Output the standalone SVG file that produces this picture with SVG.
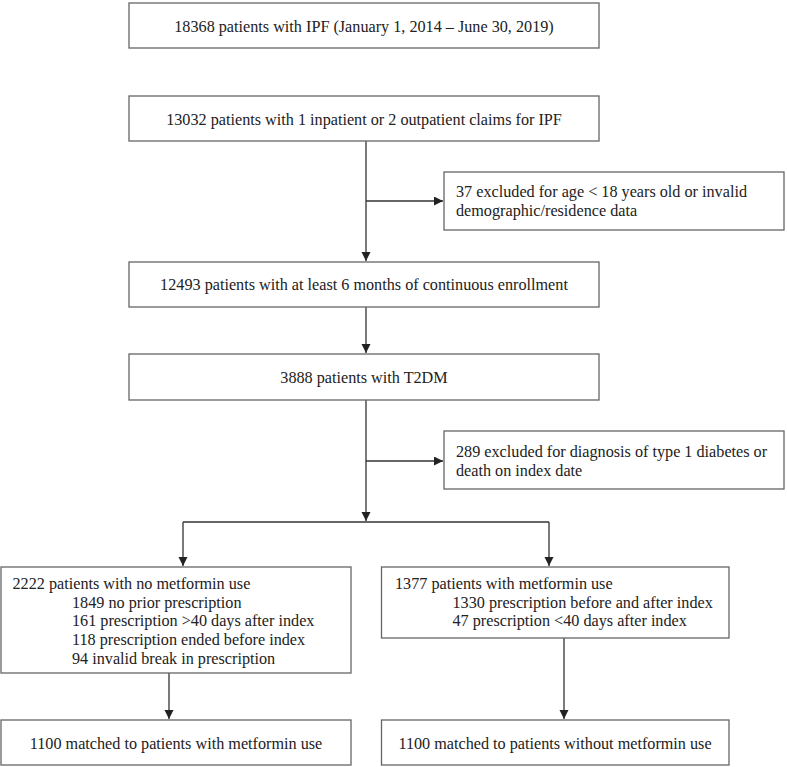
<svg xmlns="http://www.w3.org/2000/svg" width="787" height="767" viewBox="0 0 787 767">
<defs>
<marker id="ah" markerWidth="10" markerHeight="10" refX="9" refY="4.5" orient="auto" markerUnits="userSpaceOnUse">
<path d="M0,0 L9,4.5 L0,9 Z" fill="#222"/>
</marker>
<style>
.box{fill:#fff;stroke:#666;stroke-width:1.3}
.t{font-family:"Liberation Serif","Times New Roman","DejaVu Serif",serif;font-size:16.2px;fill:#222}
.c{text-anchor:middle}
.ln{fill:none;stroke:#333;stroke-width:1.3}
</style>
</defs>
<rect width="787" height="767" fill="#fff"/>
<g id="connectors">
<path class="ln" d="M366,141 V261" marker-end="url(#ah)"/>
<path class="ln" d="M366,201 H443" marker-end="url(#ah)"/>
<path class="ln" d="M366,307 V353" marker-end="url(#ah)"/>
<path class="ln" d="M366,400 V521" marker-end="url(#ah)"/>
<path class="ln" d="M366,461 H443" marker-end="url(#ah)"/>
<path class="ln" d="M183,522 H549"/>
<path class="ln" d="M183,522 V566" marker-end="url(#ah)"/>
<path class="ln" d="M549,522 V566" marker-end="url(#ah)"/>
<path class="ln" d="M169,673 V719" marker-end="url(#ah)"/>
<path class="ln" d="M564,638 V719" marker-end="url(#ah)"/>
</g>
<g id="n1">
<rect class="box" x="129" y="3" width="470" height="45"/>
<text class="t c" x="364" y="31.5">18368 patients with IPF (January 1, 2014 – June 30, 2019)</text>
</g>
<g id="n2">
<rect class="box" x="129" y="96" width="470" height="45"/>
<text class="t c" x="364" y="124.5">13032 patients with 1 inpatient or 2 outpatient claims for IPF</text>
</g>
<g id="x1">
<rect class="box" x="444" y="172" width="340" height="58"/>
<text class="t" x="456" y="197">37 excluded for age &lt; 18 years old or invalid</text>
<text class="t" x="456" y="216">demographic/residence data</text>
</g>
<g id="n3">
<rect class="box" x="129" y="262" width="470" height="45"/>
<text class="t c" x="364" y="290">12493 patients with at least 6 months of continuous enrollment</text>
</g>
<g id="n4">
<rect class="box" x="129" y="354" width="470" height="46"/>
<text class="t c" x="364" y="383">3888 patients with T2DM</text>
</g>
<g id="x2">
<rect class="box" x="444" y="431" width="340" height="58"/>
<text class="t" x="456" y="457">289 excluded for diagnosis of type 1 diabetes or</text>
<text class="t" x="456" y="476">death on index date</text>
</g>
<g id="n5">
<rect class="box" x="1" y="567" width="350" height="106"/>
<text class="t" x="12.5" y="589">2222 patients with no metformin use</text>
<text class="t" x="72" y="607.7">1849 no prior prescription</text>
<text class="t" x="72" y="626.4">161 prescription &gt;40 days after index</text>
<text class="t" x="72" y="645.1">118 prescription ended before index</text>
<text class="t" x="72" y="663.8">94 invalid break in prescription</text>
</g>
<g id="n6">
<rect class="box" x="381.5" y="567" width="347.5" height="71"/>
<text class="t" x="395" y="589">1377 patients with metformin use</text>
<text class="t" x="452.5" y="607.7">1330 prescription before and after index</text>
<text class="t" x="452.5" y="626.4">47 prescription &lt;40 days after index</text>
</g>
<g id="n7">
<rect class="box" x="1" y="720" width="350" height="45"/>
<text class="t c" x="176" y="749">1100 matched to patients with metformin use</text>
</g>
<g id="n8">
<rect class="box" x="381.5" y="720" width="347.5" height="45"/>
<text class="t c" x="555" y="749">1100 matched to patients without metformin use</text>
</g>
</svg>
